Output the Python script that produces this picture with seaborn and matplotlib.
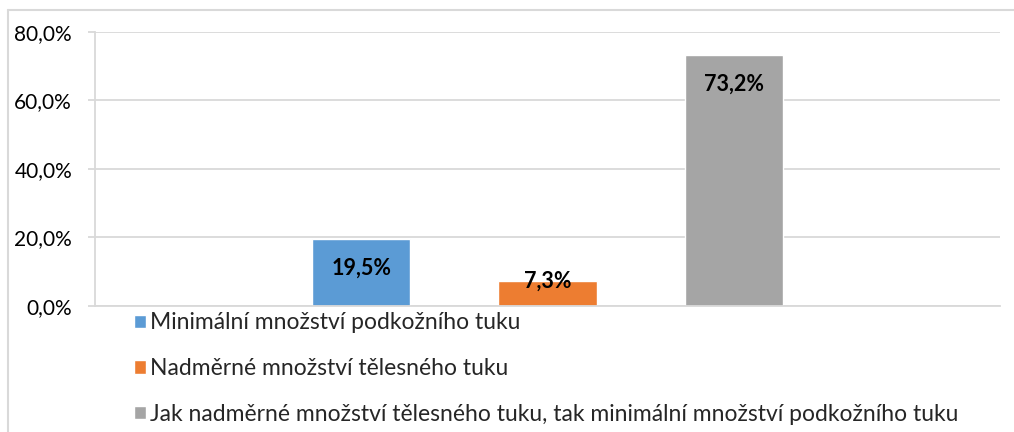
import numpy as np
import pandas as pd
import matplotlib
matplotlib.use('Agg')
import matplotlib.pyplot as plt
import seaborn as sns
from matplotlib.ticker import FuncFormatter
from matplotlib.lines import Line2D

# data
skupiny = ['Minimální množství podkožního tuku',
           'Nadměrné množství tělesného tuku',
           'Jak nadměrné množství tělesného tuku, tak minimální množství podkožního tuku']
hodnoty = [19.5, 7.3, 73.2]
barvy = ['#5B9BD5', '#ED7D31', '#A5A5A5']
y_ticks = [0, 20, 40, 60, 80]

sns.set_theme(style='white')
plt.rcParams['font.family'] = ['Lato', 'DejaVu Sans']

df = pd.DataFrame({'skupina': skupiny, 'hodnota': hodnoty})

fig = plt.figure(figsize=(10.14, 4.32), dpi=100)
ax = fig.add_axes([0.0937, 0.2917, 0.8925, 0.6343])

sns.barplot(data=df, x='skupina', y='hodnota', hue='skupina', palette=barvy,
            width=0.527, dodge=False, saturation=1, ax=ax, legend=True)

ax.set_xlim(-1.43, 3.43)
ax.set_ylim(0, 80)
ax.set_yticks(y_ticks)
ax.yaxis.set_major_formatter(FuncFormatter(lambda v, p: ('%.1f%%' % v).replace('.', ',')))
ax.set_xticks([])
ax.set_xlabel('')
ax.set_ylabel('')
ax.grid(axis='y', color='#d9d9d9', linewidth=1.3)
ax.set_axisbelow(True)
for s in ['top', 'right']:
    ax.spines[s].set_visible(False)
for s in ['left', 'bottom']:
    ax.spines[s].set_color('#d9d9d9')
    ax.spines[s].set_linewidth(1.3)
ax.tick_params(axis='y', length=5, width=1.3, color='#d9d9d9', pad=11.5,
               labelsize=15, labelcolor='#000000', left=True)

# popisky hodnot uvnitr sloupcu
for cont in ax.containers:
    for bar in cont:
        v = bar.get_height()
        if np.isnan(v):
            continue
        off = -21 if v > 10 else 0
        ax.annotate(('%.1f%%' % v).replace('.', ','),
                    (bar.get_x() + bar.get_width() / 2, v),
                    xytext=(0, off), textcoords='offset points',
                    ha='center', va='center', fontsize=15.5, fontweight='bold',
                    color='black')

handles, labels = ax.get_legend_handles_labels()
ax.legend(handles, labels, loc='upper left', bbox_to_anchor=(0.132, 0.277),
          bbox_transform=fig.transFigure, frameon=False, fontsize=16.5,
          handlelength=0.52, handleheight=0.52, handletextpad=0.18,
          labelspacing=1.08, borderpad=0, borderaxespad=0)

# ramecek grafu
W, H = 1014, 432
fig.add_artist(Line2D([8 / W, 8 / W], [0, 1 - 10 / H], transform=fig.transFigure,
                      color='#d9d9d9', linewidth=1.5))
fig.add_artist(Line2D([8 / W, 1], [1 - 10 / H, 1 - 10 / H], transform=fig.transFigure,
                      color='#d9d9d9', linewidth=1.5))

fig.savefig('out.png', dpi=100)
